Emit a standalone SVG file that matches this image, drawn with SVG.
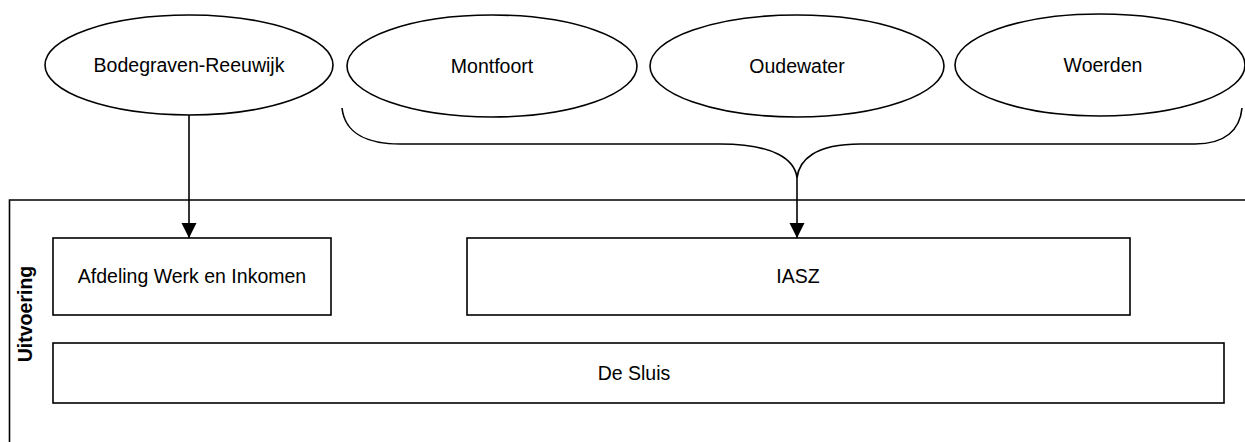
<svg xmlns="http://www.w3.org/2000/svg" width="1245" height="442" viewBox="0 0 1245 442">
<style>
.shape{fill:#fff;stroke:#000;stroke-width:1.6}
.line{fill:none;stroke:#000;stroke-width:1.6}
.lbl{font-family:"Liberation Sans",Arial,sans-serif;font-size:19.5px;fill:#000;text-anchor:middle}
.bold{font-weight:bold}
</style>
<defs>
<marker id="arr" markerWidth="16" markerHeight="16" refX="15" refY="7.5" orient="auto" markerUnits="userSpaceOnUse">
<path d="M0,0 L15,7.5 L0,15 Z" fill="#000"/>
</marker>
</defs>
<rect width="1245" height="442" fill="#fff"/>
<g id="uitvoering">
<path class="line" d="M1250 200 H9.5 V450"/>
<text class="lbl bold" transform="translate(32 314) rotate(-90)">Uitvoering</text>
</g>
<g id="bodegraven">
<ellipse class="shape" cx="189" cy="65" rx="144" ry="50"/>
<text class="lbl" x="189" y="72">Bodegraven-Reeuwijk</text>
</g>
<g id="montfoort">
<ellipse class="shape" cx="492" cy="66" rx="145" ry="51"/>
<text class="lbl" x="492" y="73">Montfoort</text>
</g>
<g id="oudewater">
<ellipse class="shape" cx="797" cy="66" rx="147" ry="51"/>
<text class="lbl" x="797" y="73">Oudewater</text>
</g>
<g id="woerden">
<ellipse class="shape" cx="1100" cy="65" rx="145" ry="51"/>
<text class="lbl" x="1103" y="72">Woerden</text>
</g>
<g id="afdeling">
<rect class="shape" x="53" y="238" width="278" height="77"/>
<text class="lbl" x="192" y="283">Afdeling Werk en Inkomen</text>
</g>
<g id="iasz">
<rect class="shape" x="467" y="238" width="663" height="77"/>
<text class="lbl" x="798" y="283">IASZ</text>
</g>
<g id="desluis">
<rect class="shape" x="53" y="343" width="1171" height="60"/>
<text class="lbl" x="634" y="380">De Sluis</text>
</g>
<g id="connectors">
<path class="line" d="M342 108 C345 135 370 144 400 144 L720 144 C775 144 795 160 797 178 C799 160 815 144 860 144 L1195 144 C1225 144 1240 130 1242 108"/>
<line class="line" x1="189" y1="115" x2="189" y2="238" marker-end="url(#arr)"/>
<line class="line" x1="797" y1="178" x2="797" y2="238" marker-end="url(#arr)"/>
</g>
</svg>
